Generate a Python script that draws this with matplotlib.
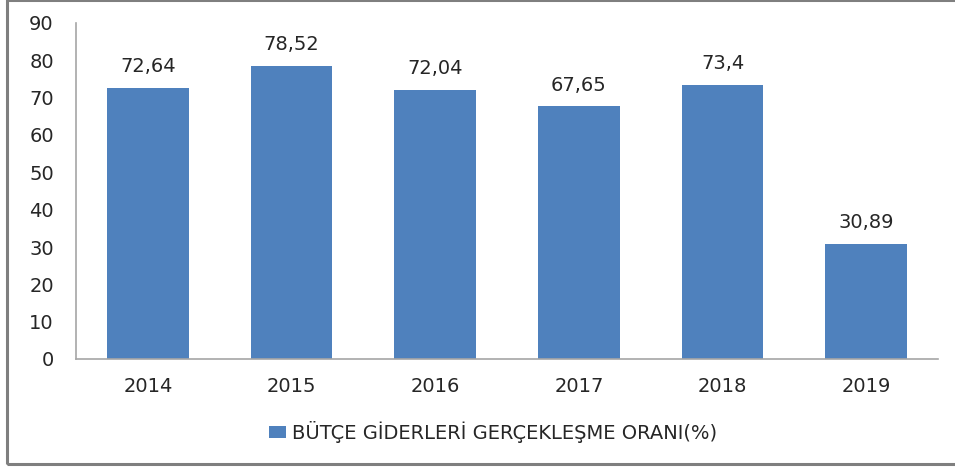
import matplotlib.pyplot as plt
from matplotlib.patches import Rectangle

plt.rcParams['font.family'] = ['DejaVu Sans']

# ================================== data ==================================
years = ['2014', '2015', '2016', '2017', '2018', '2019']
ratios = [72.64, 78.52, 72.04, 67.65, 73.4, 30.89]
labels = ['72,64', '78,52', '72,04', '67,65', '73,4', '30,89']
series_name = 'BÜTÇE GİDERLERİ GERÇEKLEŞME ORANI(%)'
yticks = [0, 10, 20, 30, 40, 50, 60, 70, 80, 90]

bar_color = '#4F81BD'
text_color = '#262626'
axis_color = '#A6A6A6'

# ================================== plot ==================================
W, H = 955, 468
fig = plt.figure(figsize=(W / 100, H / 100), dpi=100)
ax = fig.add_axes([76 / W, 1 - 359 / H, (938 - 76) / W, (359 - 23) / H])

x = range(len(years))
bars = ax.bar(x, ratios, width=0.57, color=bar_color, label=series_name, zorder=2)

# data labels above bars
for b, lab in zip(bars, labels):
    ax.annotate(lab, (b.get_x() + b.get_width() / 2, b.get_height()),
                xytext=(0, 8.5), textcoords='offset points',
                ha='center', va='bottom', fontsize=14, color=text_color)

ax.set_xlim(-0.5, len(years) - 0.5)
ax.set_ylim(0, 90)
ax.set_yticks(yticks)
ax.set_xticks(list(x))
ax.set_xticklabels(years)
ax.tick_params(axis='both', length=0, labelsize=14, labelcolor=text_color)
ax.tick_params(axis='y', pad=16)
ax.tick_params(axis='x', pad=13)

for s in ['top', 'right']:
    ax.spines[s].set_visible(False)
for s in ['left', 'bottom']:
    ax.spines[s].set_color(axis_color)
    ax.spines[s].set_linewidth(1.2)

leg = fig.legend(loc='center', bbox_to_anchor=(493 / W, 1 - 432 / H),
                 frameon=False, fontsize=14, handlelength=0.9, handleheight=0.6,
                 handletextpad=0.3)
for t in leg.get_texts():
    t.set_color(text_color)

# outer frame
fig.patches.append(Rectangle((7 / W, 4 / H), 1.0, 1 - 4 / H, transform=fig.transFigure,
                             fill=False, edgecolor='#7F7F7F', linewidth=2.2))

fig.savefig('out.png', dpi=100)
